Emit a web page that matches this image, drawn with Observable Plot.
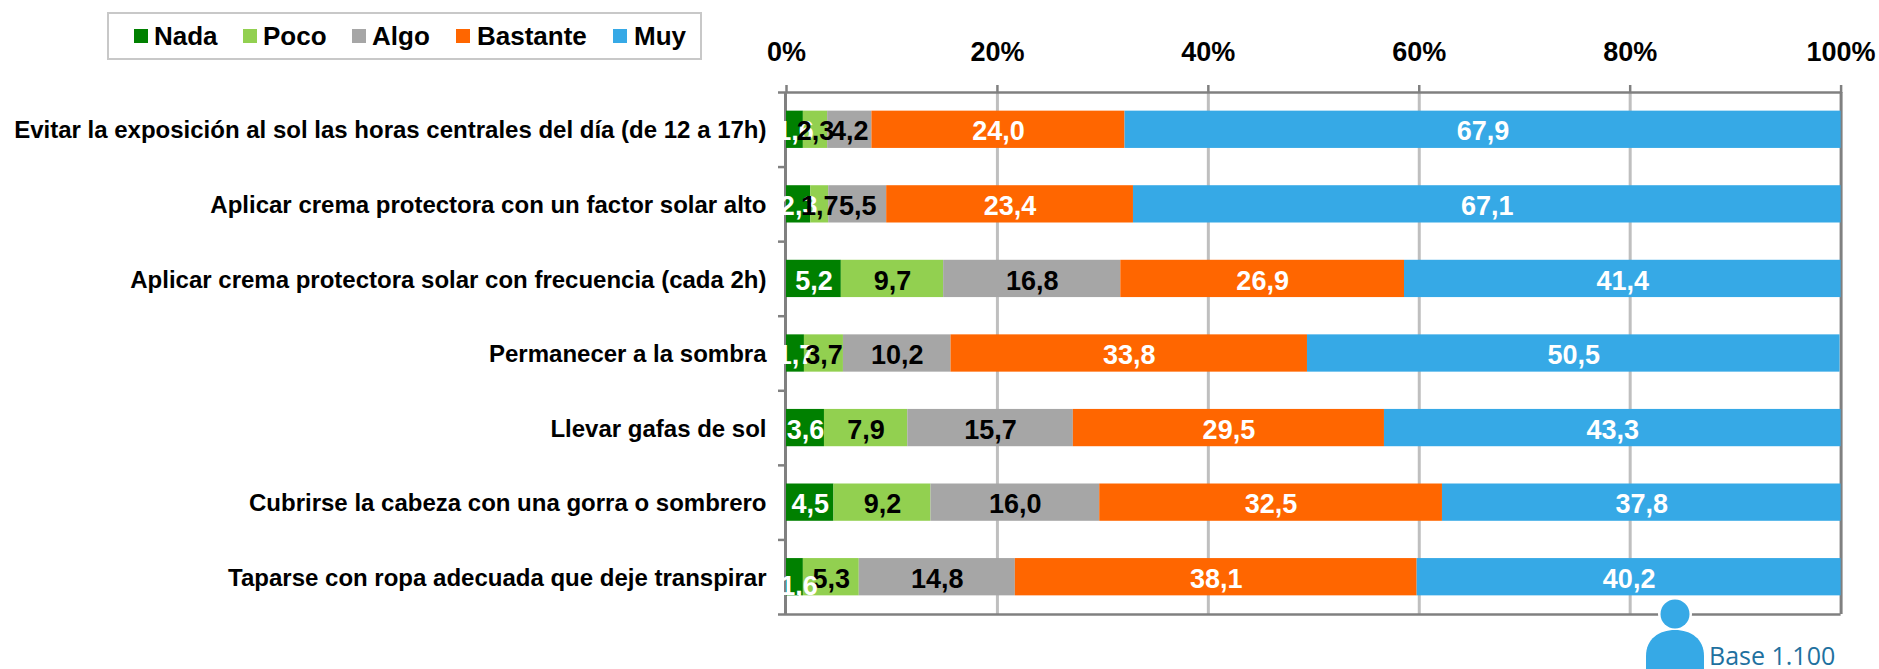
<!DOCTYPE html>
<html><head><meta charset="utf-8">
<script src="https://cdn.jsdelivr.net/npm/d3@7"></script>
<script src="https://cdn.jsdelivr.net/npm/@observablehq/plot@0.6"></script>
<style>
html,body{margin:0;padding:0;background:#fff;width:1879px;height:669px;overflow:hidden}
#wrap{position:relative;width:1879px;height:669px}
#legend{position:absolute;left:107px;top:12px;width:595px;height:48px;box-sizing:border-box;border:2.5px solid #c8c8c8;background:#fff;font:bold 26px "Liberation Sans",Arial,sans-serif;color:#000}
#legend span{position:absolute;top:7px;line-height:30px;white-space:nowrap}
#legend i{position:absolute;top:14.5px;width:14px;height:14px}
#base{position:absolute;left:1709px;top:640px;font:25px "Open Sans",sans-serif;color:#1f719f;white-space:nowrap;line-height:30px}
#icon{position:absolute;left:1645px;top:596px}
</style></head><body><div id="wrap"></div>
<script>
const categories = [
 "Evitar la exposición al sol las horas centrales del día (de 12 a 17h)",
 "Aplicar crema protectora con un factor solar alto",
 "Aplicar crema protectora solar con frecuencia (cada 2h)",
 "Permanecer a la sombra",
 "Llevar gafas de sol",
 "Cubrirse la cabeza con una gorra o sombrero",
 "Taparse con ropa adecuada que deje transpirar"];
const levels = ["Nada","Poco","Algo","Bastante","Muy"];
const colors = ["#008000","#92d050","#a6a6a6","#ff6600","#36a9e6"];
const labelColors = ["#fff","#000","#000","#fff","#fff"];
const nada = [1.6,2.3,5.2,1.7,3.6,4.5,1.6];
const poco = [2.3,1.7,9.7,3.7,7.9,9.2,5.3];
const algo = [4.2,5.5,16.8,10.2,15.7,16.0,14.8];
const bastante = [24.0,23.4,26.9,33.8,29.5,32.5,38.1];
const muy = [67.9,67.1,41.4,50.5,43.3,37.8,40.2];
const xTicks = [0,20,40,60,80,100];
const series = [nada,poco,algo,bastante,muy];
const rows = [];
categories.forEach((c,i)=>{ let s=0; levels.forEach((l,j)=>{ const v=series[j][i]; rows.push({c,l,j,i,v,x1:s,x2:s+v,mid:s+v/2}); s+=v; }); });
const dec = v => v.toFixed(1).replace(".",",");
const FONT = '"Liberation Sans",Arial,sans-serif';
const step = (669-55-92)/7;
const moved = r => r.j===0 && r.i===6;
const chart = Plot.plot({
  width:1879,height:669,marginLeft:786,marginRight:39,marginTop:92,marginBottom:55,
  style:{background:"#fff",fontFamily:FONT,overflow:"visible"},
  x:{domain:[0,100],range:[786,1840.6]},
  y:{domain:categories,paddingInner:0.5,paddingOuter:0.25,round:false},
  color:{domain:levels,range:colors},
  marks:[
    Plot.ruleX([20,40,60,80],{stroke:"#bfbfbf",strokeWidth:3}),
    Plot.axisX({anchor:"top",ticks:xTicks,tickSize:8,tickPadding:24,tickFormat:d=>d+"%",fontSize:27,fontWeight:"bold",fill:"#000",stroke:"#808080",strokeWidth:2.5,strokeOpacity:1,label:null}),
    Plot.ruleX([0],{stroke:"#808080",strokeWidth:3,dx:-1}),
    Plot.ruleX([100],{stroke:"#808080",strokeWidth:3}),
    Plot.ruleY([0],{y:()=>categories[0],x1:0,x2:100,dy:-step/2,stroke:"#808080",strokeWidth:2.5}),
    Plot.ruleY([0],{y:()=>categories[6],x1:0,x2:100,dy:step/2,stroke:"#808080",strokeWidth:2.5}),
    Plot.axisY({ticks:categories,tickSize:8,dy:-step/2,text:null,tickFormat:()=>"",stroke:"#808080",strokeWidth:2.5,label:null}),
    Plot.axisY({ticks:[categories[6]],tickSize:8,dy:step/2,text:null,tickFormat:()=>"",stroke:"#808080",strokeWidth:2.5,label:null}),
    Plot.axisY({ticks:categories,tickSize:0,tickPadding:20,fontSize:24,fontWeight:"bold",fill:"#000",lineWidth:Infinity,textOverflow:null,label:null,dy:1}),
    Plot.barX(rows,{y:"c",x1:"x1",x2:"x2",fill:"l",inset:0}),
    ...levels.map((l,j)=>Plot.text(rows.filter(r=>r.j===j && !moved(r)),{
      y:"c",x:"mid",text:d=>dec(d.v),fill:labelColors[j],fontSize:27,fontWeight:"bold",dy:2
    })),
    Plot.text(rows.filter(moved),{y:"c",x:"mid",text:d=>dec(d.v),fill:"#fff",fontSize:27,fontWeight:"bold",dx:4,dy:9})
  ]
});
const wrap=document.getElementById("wrap");
wrap.appendChild(chart);
const lg=document.createElement("div");lg.id="legend";
const swatchX=[25,134,243,347,504], textX=[45,154,263,368,525];
levels.forEach((l,j)=>{const i=document.createElement("i");i.style.left=swatchX[j]+"px";i.style.background=colors[j];lg.appendChild(i);
 const s=document.createElement("span");s.style.left=textX[j]+"px";s.textContent=l;lg.appendChild(s);});
wrap.appendChild(lg);
const b=document.createElement("div");b.id="base";b.textContent="Base 1.100";wrap.appendChild(b);
const ic=document.createElement("div");ic.id="icon";
ic.innerHTML='<svg width="62" height="73" viewBox="0 0 62 73"><circle cx="30" cy="18" r="14.5" fill="#36a9e6" stroke="#fff" stroke-width="5" paint-order="stroke"/><path d="M1 73V60C1 43 14 34 30 34S59 43 59 60V73Z" fill="#36a9e6"/></svg>';
wrap.appendChild(ic);
</script></body></html>
